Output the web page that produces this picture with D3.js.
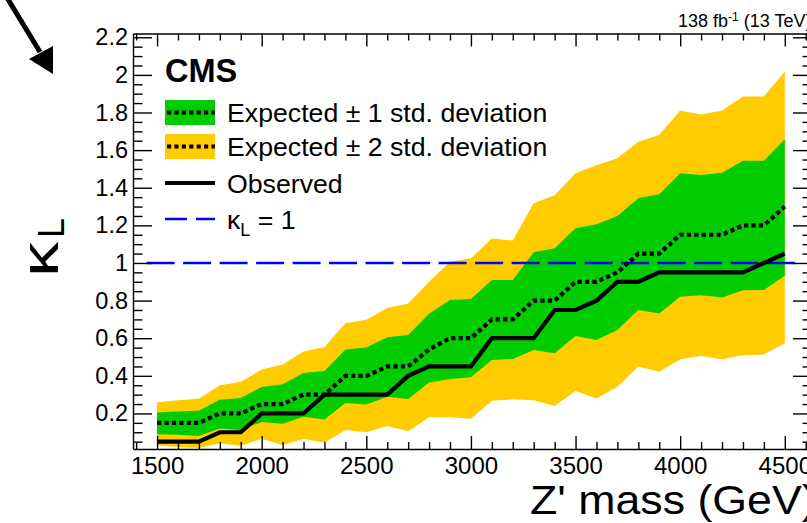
<!DOCTYPE html>
<html>
<head>
<meta charset="utf-8">
<script src="https://cdn.jsdelivr.net/npm/d3@7"></script>
<style>
  html, body { margin: 0; padding: 0; background: #fff; }
  svg { display: block; font-family: "Liberation Sans", Arial, Helvetica, sans-serif; }
</style>
</head>
<body>
<svg id="chart" width="807" height="523"></svg>
<script>
// Z' mass points (GeV)
const masses = [1500, 1600, 1700, 1800, 1900, 2000, 2100, 2200, 2300, 2400,
                2500, 2600, 2700, 2800, 2900, 3000, 3100, 3200, 3300, 3400,
                3500, 3600, 3700, 3800, 3900, 4000, 4100, 4200, 4300, 4400, 4500];

// Expected (median) limit on kappa_L
const expected = [0.15, 0.15, 0.15, 0.2, 0.2, 0.25, 0.25, 0.3, 0.3, 0.4,
                  0.4, 0.45, 0.45, 0.54, 0.6, 0.6, 0.7, 0.7, 0.8, 0.8,
                  0.9, 0.9, 0.95, 1.05, 1.05, 1.15, 1.15, 1.15, 1.2, 1.2, 1.3];

// +-1 std. deviation band
const band1Lo = [0.09, 0.087, 0.08, 0.12, 0.112, 0.155, 0.145, 0.182, 0.168, 0.256,
                 0.247, 0.289, 0.277, 0.365, 0.383, 0.393, 0.484, 0.49, 0.537, 0.52,
                 0.612, 0.59, 0.644, 0.75, 0.732, 0.82, 0.828, 0.817, 0.855, 0.856, 0.932];
const band1Hi = [0.205, 0.21, 0.214, 0.273, 0.282, 0.34, 0.355, 0.415, 0.426, 0.54,
                 0.55, 0.605, 0.617, 0.73, 0.803, 0.808, 0.91, 0.91, 1.057, 1.078,
                 1.185, 1.206, 1.25, 1.344, 1.365, 1.477, 1.468, 1.48, 1.543, 1.543, 1.658];

// +-2 std. deviation band
const band2Lo = [0.03, 0.022, 0.016, 0.042, 0.028, 0.065, 0.032, 0.065, 0.044, 0.112,
                 0.1, 0.133, 0.106, 0.18, 0.18, 0.172, 0.268, 0.275, 0.27, 0.24,
                 0.32, 0.28, 0.342, 0.45, 0.422, 0.488, 0.505, 0.488, 0.51, 0.514, 0.573];
const band2Hi = [0.26, 0.27, 0.278, 0.35, 0.368, 0.433, 0.46, 0.53, 0.553, 0.68,
                 0.698, 0.76, 0.785, 0.9, 1.007, 1.025, 1.13, 1.12, 1.318, 1.36,
                 1.477, 1.52, 1.557, 1.645, 1.68, 1.81, 1.79, 1.81, 1.885, 1.885, 2.018];

// Observed limit on kappa_L
const observed = [0.05, 0.05, 0.05, 0.1, 0.1, 0.2, 0.2, 0.2, 0.3, 0.3,
                  0.3, 0.3, 0.4, 0.45, 0.45, 0.45, 0.6, 0.6, 0.6, 0.75,
                  0.75, 0.8, 0.9, 0.9, 0.95, 0.95, 0.95, 0.95, 0.95, 1.0, 1.05];

// Axis ticks and labels
const xMajorTicks = [1500, 2000, 2500, 3000, 3500, 4000, 4500];
const xTickLabels = ["1500", "2000", "2500", "3000", "3500", "4000", "4500"];
const yMajorTicks = [0.2, 0.4, 0.6, 0.8, 1, 1.2, 1.4, 1.6, 1.8, 2, 2.2];
const yTickLabels = ["0.2", "0.4", "0.6", "0.8", "1", "1.2", "1.4", "1.6", "1.8", "2", "2.2"];

// Reference line kappa_L = 1
const refValue = 1;
const refRange = [1450, 4550];

const legendLabels = ["Expected \u00b1 1 std. deviation", "Expected \u00b1 2 std. deviation", "Observed"];

const GREEN = "#00cc00";
const YELLOW = "#ffcc00";
const BLUE = "#0000ff";

const svg = d3.select("#chart");

const frame = { left: 133, right: 812, top: 33.5, bottom: 449 };

const x = d3.scaleLinear().domain([1385, 4630]).range([frame.left, frame.right]);
const y = d3.scaleLinear().domain([0.011, 2.22]).range([frame.bottom, frame.top]);

const rows = masses.map((m, i) => ({
  m, exp: expected[i], lo1: band1Lo[i], hi1: band1Hi[i],
  lo2: band2Lo[i], hi2: band2Hi[i], obs: observed[i]
}));

// Bands
const area = (lo, hi) => d3.area().x(d => x(d.m)).y0(d => y(d[lo])).y1(d => y(d[hi]));
svg.append("path").attr("d", area("lo2", "hi2")(rows)).attr("fill", YELLOW);
svg.append("path").attr("d", area("lo1", "hi1")(rows)).attr("fill", GREEN);

// Reference line
svg.append("line")
  .attr("x1", x(refRange[0])).attr("x2", x(refRange[1]))
  .attr("y1", y(refValue)).attr("y2", y(refValue))
  .attr("stroke", BLUE).attr("stroke-width", 2.6)
  .attr("stroke-dasharray", "28,8.5");

// Expected and observed curves
const line = key => d3.line().x(d => x(d.m)).y(d => y(d[key]));
svg.append("path").attr("d", line("exp")(rows))
  .attr("fill", "none").attr("stroke", "#000").attr("stroke-width", 4.2)
  .attr("stroke-dasharray", "4.2,3.2");
svg.append("path").attr("d", line("obs")(rows))
  .attr("fill", "none").attr("stroke", "#000").attr("stroke-width", 4.2)
  .attr("stroke-linejoin", "miter");

// Axes
const xMinor = d3.range(1400, 4700, 100).filter(v => v >= x.domain()[0] && v <= x.domain()[1] && !xMajorTicks.includes(v));
const yMinor = d3.range(1, 45).map(k => +(k * 0.05).toFixed(2)).filter(v => v >= y.domain()[0] && v <= y.domain()[1] && !yMajorTicks.some(t => Math.abs(t - v) < 1e-6));

function styleAxis(g) {
  g.selectAll("path.domain").attr("stroke", "#000").attr("stroke-width", 1.4);
  g.selectAll(".tick line").attr("stroke", "#000").attr("stroke-width", 1.4);
  g.selectAll("text").attr("fill", "#000");
}

// bottom
const gB = svg.append("g").attr("transform", `translate(0,${frame.bottom})`)
  .call(d3.axisBottom(x).tickValues(xMajorTicks).tickSizeInner(-13).tickSizeOuter(0)
    .tickPadding(8).tickFormat((d, i) => xTickLabels[i]));
gB.selectAll("text").attr("font-size", 24).attr("dy", "0.71em");
styleAxis(gB);
svg.append("g").attr("transform", `translate(0,${frame.bottom})`)
  .call(d3.axisBottom(x).tickValues(xMinor).tickSizeInner(-7).tickSizeOuter(0).tickFormat(""))
  .call(g => g.select("path.domain").remove()).call(styleAxis);

// top
svg.append("g").attr("transform", `translate(0,${frame.top})`)
  .call(d3.axisTop(x).tickValues(xMajorTicks).tickSizeInner(-13).tickSizeOuter(0).tickFormat(""))
  .call(styleAxis);
svg.append("g").attr("transform", `translate(0,${frame.top})`)
  .call(d3.axisTop(x).tickValues(xMinor).tickSizeInner(-7).tickSizeOuter(0).tickFormat(""))
  .call(g => g.select("path.domain").remove()).call(styleAxis);

// left
const gL = svg.append("g").attr("transform", `translate(${frame.left},0)`)
  .call(d3.axisLeft(y).tickValues(yMajorTicks).tickSizeInner(-19).tickSizeOuter(0)
    .tickPadding(5).tickFormat((d, i) => yTickLabels[i]));
gL.selectAll("text").attr("font-size", 23.5);
styleAxis(gL);
svg.append("g").attr("transform", `translate(${frame.left},0)`)
  .call(d3.axisLeft(y).tickValues(yMinor).tickSizeInner(-9.5).tickSizeOuter(0).tickFormat(""))
  .call(g => g.select("path.domain").remove()).call(styleAxis);

// right
svg.append("g").attr("transform", `translate(${frame.right},0)`)
  .call(d3.axisRight(y).tickValues(yMajorTicks).tickSizeInner(-19).tickSizeOuter(0).tickFormat(""))
  .call(styleAxis);
svg.append("g").attr("transform", `translate(${frame.right},0)`)
  .call(d3.axisRight(y).tickValues(yMinor).tickSizeInner(-9.5).tickSizeOuter(0).tickFormat(""))
  .call(g => g.select("path.domain").remove()).call(styleAxis);

// Axis titles
svg.append("text")
  .attr("transform", "translate(530,514) scale(1.09,1)")
  .attr("font-size", 41)
  .text("Z' mass (GeV)");

// kappa_L (rotated); the kappa glyph is stretched along the text direction
svg.append("text")
  .attr("transform", "translate(58,277) rotate(-90) scale(1.35,1)")
  .attr("font-size", 52)
  .text("\u03ba");
svg.append("text")
  .attr("transform", "translate(64,238) rotate(-90)")
  .attr("font-size", 36)
  .text("L");

// Luminosity label
const lumi = svg.append("text").attr("x", 678).attr("y", 27).attr("font-size", 18);
lumi.append("tspan").text("138 fb");
lumi.append("tspan").attr("font-size", 12).attr("dy", -6).text("-1");
lumi.append("tspan").attr("dy", 6).text(" (13 TeV)");

// Arrow in the corner
svg.append("line").attr("x1", 6).attr("y1", -4).attr("x2", 40).attr("y2", 52)
  .attr("stroke", "#000").attr("stroke-width", 5);
svg.append("path").attr("d", "M53,74 L29,59 L53,46 Z").attr("fill", "#000");

// Legend
const lg = svg.append("g");
lg.append("text").attr("x", 165).attr("y", 82).attr("font-size", 32.5).attr("font-weight", "bold").text("CMS");

const entries = [
  { label: legendLabels[0], fill: GREEN, yc: 112.5, kind: "band" },
  { label: legendLabels[1], fill: YELLOW, yc: 146.5, kind: "band" },
  { label: legendLabels[2], yc: 183, kind: "obs" }
];
entries.forEach(e => {
  if (e.kind === "band") {
    lg.append("rect").attr("x", 165).attr("y", e.yc - 12.5).attr("width", 50).attr("height", 25).attr("fill", e.fill);
    lg.append("line").attr("x1", 167).attr("x2", 215).attr("y1", e.yc).attr("y2", e.yc)
      .attr("stroke", "#000").attr("stroke-width", 4.2).attr("stroke-dasharray", "4.2,3.2");
  } else {
    lg.append("line").attr("x1", 165).attr("x2", 215).attr("y1", e.yc).attr("y2", e.yc)
      .attr("stroke", "#000").attr("stroke-width", 4.2);
  }
  lg.append("text").attr("x", 227).attr("y", e.yc).attr("dy", "0.36em").attr("font-size", 26.7).text(e.label);
});
lg.append("line").attr("x1", 165).attr("x2", 215).attr("y1", 219).attr("y2", 219)
  .attr("stroke", BLUE).attr("stroke-width", 2.6).attr("stroke-dasharray", "22,9");
const kl = lg.append("text").attr("x", 227).attr("y", 219).attr("dy", "0.36em").attr("font-size", 26.7);
kl.append("tspan").text("\u03ba");
kl.append("tspan").attr("font-size", 18).attr("dy", 7).text("L");
kl.append("tspan").attr("dy", -7).text(" = 1");
</script>
</body>
</html>
